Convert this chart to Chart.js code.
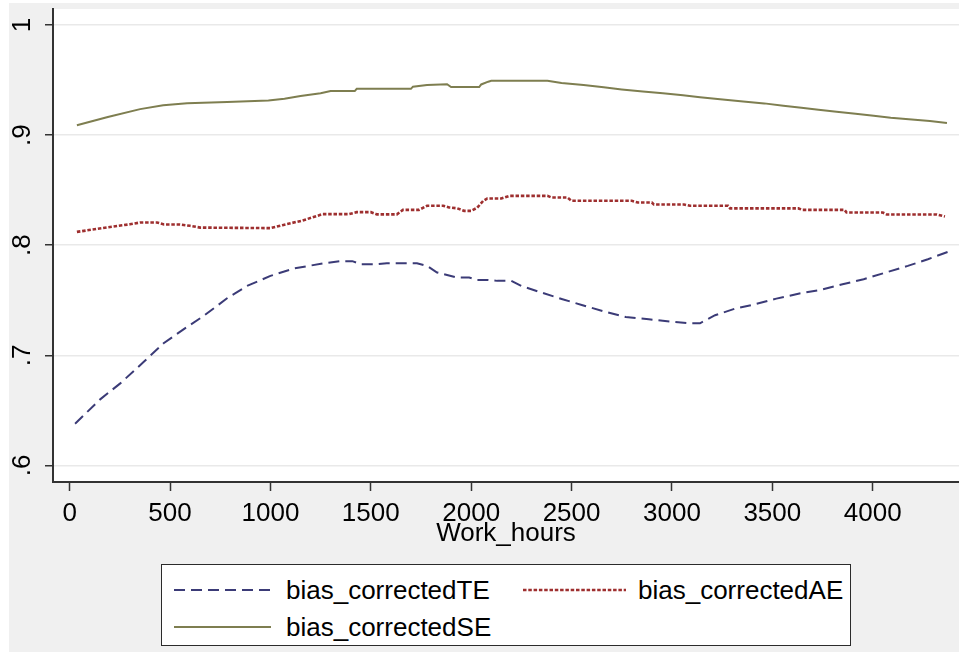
<!DOCTYPE html>
<html>
<head>
<meta charset="utf-8">
<script src="https://cdn.jsdelivr.net/npm/chart.js@4/dist/chart.umd.min.js"></script>
<style>
html,body{margin:0;padding:0;background:#fff;width:959px;height:652px;overflow:hidden;}
#wrap{position:absolute;left:9px;top:3px;width:950px;height:649px;background:#f0f0f0;}
#c{position:absolute;left:0;top:0;}
#legend{position:absolute;left:152px;top:561px;width:688px;height:80px;border:1.5px solid #2b2b2b;background:#fff;
  font-family:'Liberation Sans',Arial,sans-serif;font-size:26px;color:#000;}
#legend span{position:absolute;line-height:30px;white-space:nowrap;}
#legend svg{position:absolute;left:0;top:0;}
</style>
</head>
<body>
<div id="wrap">
  <canvas id="c" width="950" height="649"></canvas>
  <div id="legend"></div>
</div>
<script>
// ---------------- data ----------------
const seriesNames = ['bias_correctedTE', 'bias_correctedAE', 'bias_correctedSE'];

const xTE = [27,152,252,368,468,567,667,784,884,1000,1116,1265,1350,1408,1450,1530,1580,1730,1780,1830,1930,1990,2030,2080,2130,2200,2250,2350,2455,2555,2665,2770,2885,2990,3080,3140,3215,3315,3415,3520,3635,3740,3850,3955,4065,4175,4275,4375];
const yTE = [.6379,.66,.6745,.6939,.7109,.7236,.7357,.7518,.763,.7721,.7788,.7836,.7855,.7855,.7827,.7827,.7836,.7836,.7812,.7752,.7706,.7706,.7685,.7685,.7676,.7676,.763,.757,.7509,.7455,.7397,.7348,.7327,.7306,.7291,.7291,.7364,.7424,.7464,.7515,.7561,.7594,.7645,.7691,.7752,.7812,.7873,.7939];

const xAE = [36,185,300,350,435,470,550,600,650,1000,1060,1160,1260,1390,1430,1500,1530,1630,1660,1740,1780,1860,1890,1930,1965,2000,2030,2060,2080,2150,2190,2380,2400,2480,2500,2800,2830,2900,2910,3060,3090,3280,3290,3630,3650,3860,3870,4050,4070,4320,4360];
const yAE = [.8121,.8161,.819,.8206,.8206,.8188,.8188,.8176,.816,.8155,.8182,.8224,.8282,.8282,.83,.83,.828,.828,.8321,.8321,.8358,.8358,.8343,.8335,.8312,.8312,.834,.8403,.8424,.8424,.8448,.8448,.8433,.8433,.8403,.8403,.8388,.8388,.837,.837,.8358,.8358,.8334,.8334,.8321,.8321,.8297,.8297,.8279,.8279,.8261];

const xSE = [36,190,351,466,585,785,990,1070,1150,1250,1300,1420,1430,1700,1710,1780,1880,1900,2040,2050,2085,2100,2380,2450,2560,2660,2750,2855,2955,3055,3140,3240,3355,3460,3555,3645,3730,3820,3915,4005,4090,4180,4285,4370];
const ySE = [.909,.9165,.9236,.927,.929,.93,.9315,.933,.9355,.938,.94,.94,.942,.942,.944,.9455,.9462,.9436,.9436,.946,.9485,.9494,.9494,.9473,.9455,.9434,.9415,.9397,.9379,.9361,.9343,.9325,.9306,.9288,.9267,.9248,.923,.9212,.9194,.9176,.9157,.9143,.9127,.911];

const xTickValues = [0,500,1000,1500,2000,2500,3000,3500,4000];
const xTickLabels = ['0','500','1000','1500','2000','2500','3000','3500','4000'];
const yTickValues = [0.6,0.7,0.8,0.9,1.0];
const yTickLabels = ['.6','.7','.8','.9','1'];
const xAxisTitle = 'Work_hours';

// ---------------- styles ----------------
const FONT = "'Liberation Sans', Arial, sans-serif";
const FS = 26;
const styles = [
  {color:'#3b3b77', width:2,   dash:[11,6]},
  {color:'#9e2f2f', width:2.6, dash:[3.5,1.8]},
  {color:'#7e7e50', width:2,   dash:[]}
];

const pts = (xs, ys) => xs.map((x, i) => ({x: x, y: ys[i]}));
const seriesData = [pts(xTE, yTE), pts(xAE, yAE), pts(xSE, ySE)];

const datasets = seriesNames.map((n, i) => ({
  label: n,
  data: seriesData[i],
  borderColor: styles[i].color,
  borderWidth: styles[i].width,
  borderDash: styles[i].dash,
  pointRadius: 0,
  fill: false,
  tension: 0
}));

const bgPlugin = {
  id: 'plotbg',
  beforeDraw(chart) {
    const {ctx, chartArea: a} = chart;
    ctx.save();
    ctx.fillStyle = '#ffffff';
    ctx.fillRect(a.left, a.top, a.right - a.left, a.bottom - a.top);
    ctx.restore();
  }
};

new Chart(document.getElementById('c').getContext('2d'), {
  type: 'line',
  data: {datasets: datasets},
  options: {
    responsive: false,
    animation: false,
    devicePixelRatio: 1,
    layout: {padding: {left: 0, right: 0, top: 6, bottom: 90}},
    plugins: {legend: {display: false}, tooltip: {enabled: false}},
    scales: {
      x: {
        type: 'linear', min: -83, max: 4430,
        afterBuildTicks: s => { s.ticks = xTickValues.map(v => ({value: v})); },
        afterFit: s => { s.height = 80; s.paddingLeft = 0; s.paddingRight = 0; },
        ticks: {
          callback: (v, i) => xTickLabels[i],
          font: {family: FONT, size: FS}, color: '#000',
          padding: 7, maxRotation: 0, minRotation: 0, autoSkip: false
        },
        grid: {drawOnChartArea: false, tickLength: 9, tickColor: '#333', tickWidth: 1.5},
        border: {color: '#333', width: 2},
        title: {display: true, text: xAxisTitle, font: {family: FONT, size: FS}, color: '#000', padding: {top: 0, bottom: 13}}
      },
      y: {
        type: 'linear', min: 0.58493, max: 1.01452,
        afterBuildTicks: s => { s.ticks = yTickValues.map(v => ({value: v})); },
        afterFit: s => { s.width = 44; s.paddingTop = 0; s.paddingBottom = 0; },
        ticks: {
          callback: (v, i) => yTickLabels[i],
          font: {family: FONT, size: FS}, color: '#000',
          minRotation: 90, maxRotation: 90, crossAlign: 'center', padding: 11, autoSkip: false
        },
        grid: {color: '#e9e9e9', lineWidth: 1.5, tickLength: 8, tickColor: '#333', tickWidth: 1.5},
        border: {color: '#333', width: 2}
      }
    }
  },
  plugins: [bgPlugin]
});

// ---------------- legend (HTML, styles from datasets) ----------------
const legendPos = [
  {sx: 12,  ex: 109, tx: 124, cy: 25},
  {sx: 361, ex: 464, tx: 476, cy: 25},
  {sx: 12,  ex: 109, tx: 124, cy: 62}
];
const lg = document.getElementById('legend');
let svg = '<svg width="688" height="80" xmlns="http://www.w3.org/2000/svg">';
seriesNames.forEach((n, i) => {
  const p = legendPos[i], s = styles[i];
  svg += '<line x1="' + p.sx + '" y1="' + p.cy + '" x2="' + p.ex + '" y2="' + p.cy + '" stroke="' + s.color +
         '" stroke-width="' + s.width + '"' + (s.dash.length ? ' stroke-dasharray="' + s.dash.join(',') + '"' : '') + '/>';
});
svg += '</svg>';
lg.innerHTML = svg;
seriesNames.forEach((n, i) => {
  const p = legendPos[i];
  const sp = document.createElement('span');
  sp.textContent = n;
  sp.style.left = p.tx + 'px';
  sp.style.top = (p.cy - 15) + 'px';
  lg.appendChild(sp);
});
</script>
</body>
</html>
